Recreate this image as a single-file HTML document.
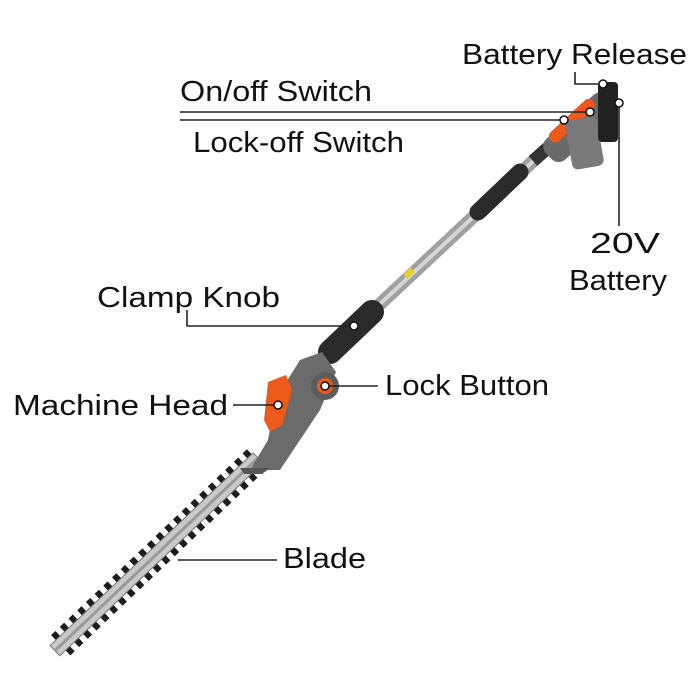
<!DOCTYPE html>
<html><head><meta charset="utf-8"><style>
body{margin:0;background:#fff}
svg{display:block}
text{font-family:"Liberation Sans",sans-serif;font-size:29px;fill:#111}
</style></head><body>
<svg width="700" height="700" viewBox="0 0 700 700">
<defs>
<pattern id="teeth" width="12" height="30" patternUnits="userSpaceOnUse">
<rect x="2" y="0" width="6" height="30" fill="#1c1c1c"/>
</pattern>
</defs>
<!-- blade -->
<g transform="translate(258,458) rotate(136.5)">
<rect x="0" y="-14" width="275" height="28" fill="url(#teeth)"/>
<rect x="0" y="-7" width="280" height="14" fill="#c9c9c9" stroke="#777" stroke-width="1"/>
<rect x="0" y="-1.5" width="280" height="3" fill="#999"/>
</g>
<!-- pole -->
<line x1="545" y1="150" x2="320" y2="360" stroke="#a0a0a0" stroke-width="13"/>
<line x1="545" y1="150" x2="320" y2="360" stroke="#d5d5d5" stroke-width="4"/>
<line x1="520" y1="172" x2="478" y2="212" stroke="#2a2a2a" stroke-width="17" stroke-linecap="round"/>
<line x1="550" y1="146" x2="533" y2="161" stroke="#333" stroke-width="13"/>
<line x1="372" y1="312" x2="330" y2="352" stroke="#2a2a2a" stroke-width="24" stroke-linecap="round"/>
<rect x="404" y="270" width="10" height="6" fill="#e8d020" transform="rotate(-43 409 273)"/>
<!-- handle / battery -->
<g transform="translate(580,128) rotate(-43)">
<rect x="-42" y="-15" width="84" height="28" rx="10" fill="#6a6a6a"/>
<rect x="-30" y="-17" width="58" height="12" rx="6" fill="#ee5a1c"/>
</g>
<rect x="568" y="118" width="32" height="50" rx="6" fill="#7a7a7a" transform="rotate(-10 584 140)"/>
<rect x="598" y="82" width="20" height="60" rx="4" fill="#222"/>
<!-- machine head -->
<path d="M250 470 L268 440 L275 400 L300 360 L322 352 L336 372 L320 410 L300 440 L280 470 Z" fill="#6b6b6b"/>
<path d="M240 468 L270 468 L262 474 L244 474 Z" fill="#555"/>
<path d="M268 382 L286 375 L292 390 L282 425 L270 432 L264 420 Z" fill="#ee5a1c"/>
<circle cx="325" cy="386" r="14" fill="#5c5c5c"/>
<circle cx="325" cy="386" r="8" fill="#ee5a1c"/>
<!-- leader lines -->
<g stroke="#222" stroke-width="1.6" fill="none">
<polyline points="575,72 575,84 603,84"/>
<line x1="180" y1="112" x2="590" y2="112"/>
<line x1="180" y1="120" x2="564" y2="120"/>
<line x1="619" y1="104" x2="619" y2="226"/>
<polyline points="187,310 187,326 354,326"/>
<line x1="325" y1="386" x2="378" y2="386"/>
<line x1="233" y1="405" x2="278" y2="405"/>
<line x1="178" y1="560" x2="277" y2="560"/>
</g>
<g fill="#fff" stroke="#111" stroke-width="1.5">
<circle cx="603" cy="84" r="4"/><circle cx="590" cy="112" r="4"/><circle cx="564" cy="120" r="4"/>
<circle cx="619" cy="103" r="4"/><circle cx="354" cy="326" r="4"/><circle cx="325" cy="386" r="4"/>
<circle cx="278" cy="405" r="4"/>
</g>
<g lengthAdjust="spacingAndGlyphs">
<text x="462" y="64" textLength="225" lengthAdjust="spacingAndGlyphs">Battery Release</text>
<text x="180" y="101" textLength="192" lengthAdjust="spacingAndGlyphs">On/off Switch</text>
<text x="193" y="152" textLength="211" lengthAdjust="spacingAndGlyphs">Lock-off Switch</text>
<text x="590" y="253" textLength="70" lengthAdjust="spacingAndGlyphs">20V</text>
<text x="569" y="290" textLength="98" lengthAdjust="spacingAndGlyphs">Battery</text>
<text x="97" y="307" textLength="183" lengthAdjust="spacingAndGlyphs">Clamp Knob</text>
<text x="385" y="395" textLength="164" lengthAdjust="spacingAndGlyphs">Lock Button</text>
<text x="13" y="415" textLength="215" lengthAdjust="spacingAndGlyphs">Machine Head</text>
<text x="283" y="568" textLength="83" lengthAdjust="spacingAndGlyphs">Blade</text>
</g>
</svg>
</body></html>
